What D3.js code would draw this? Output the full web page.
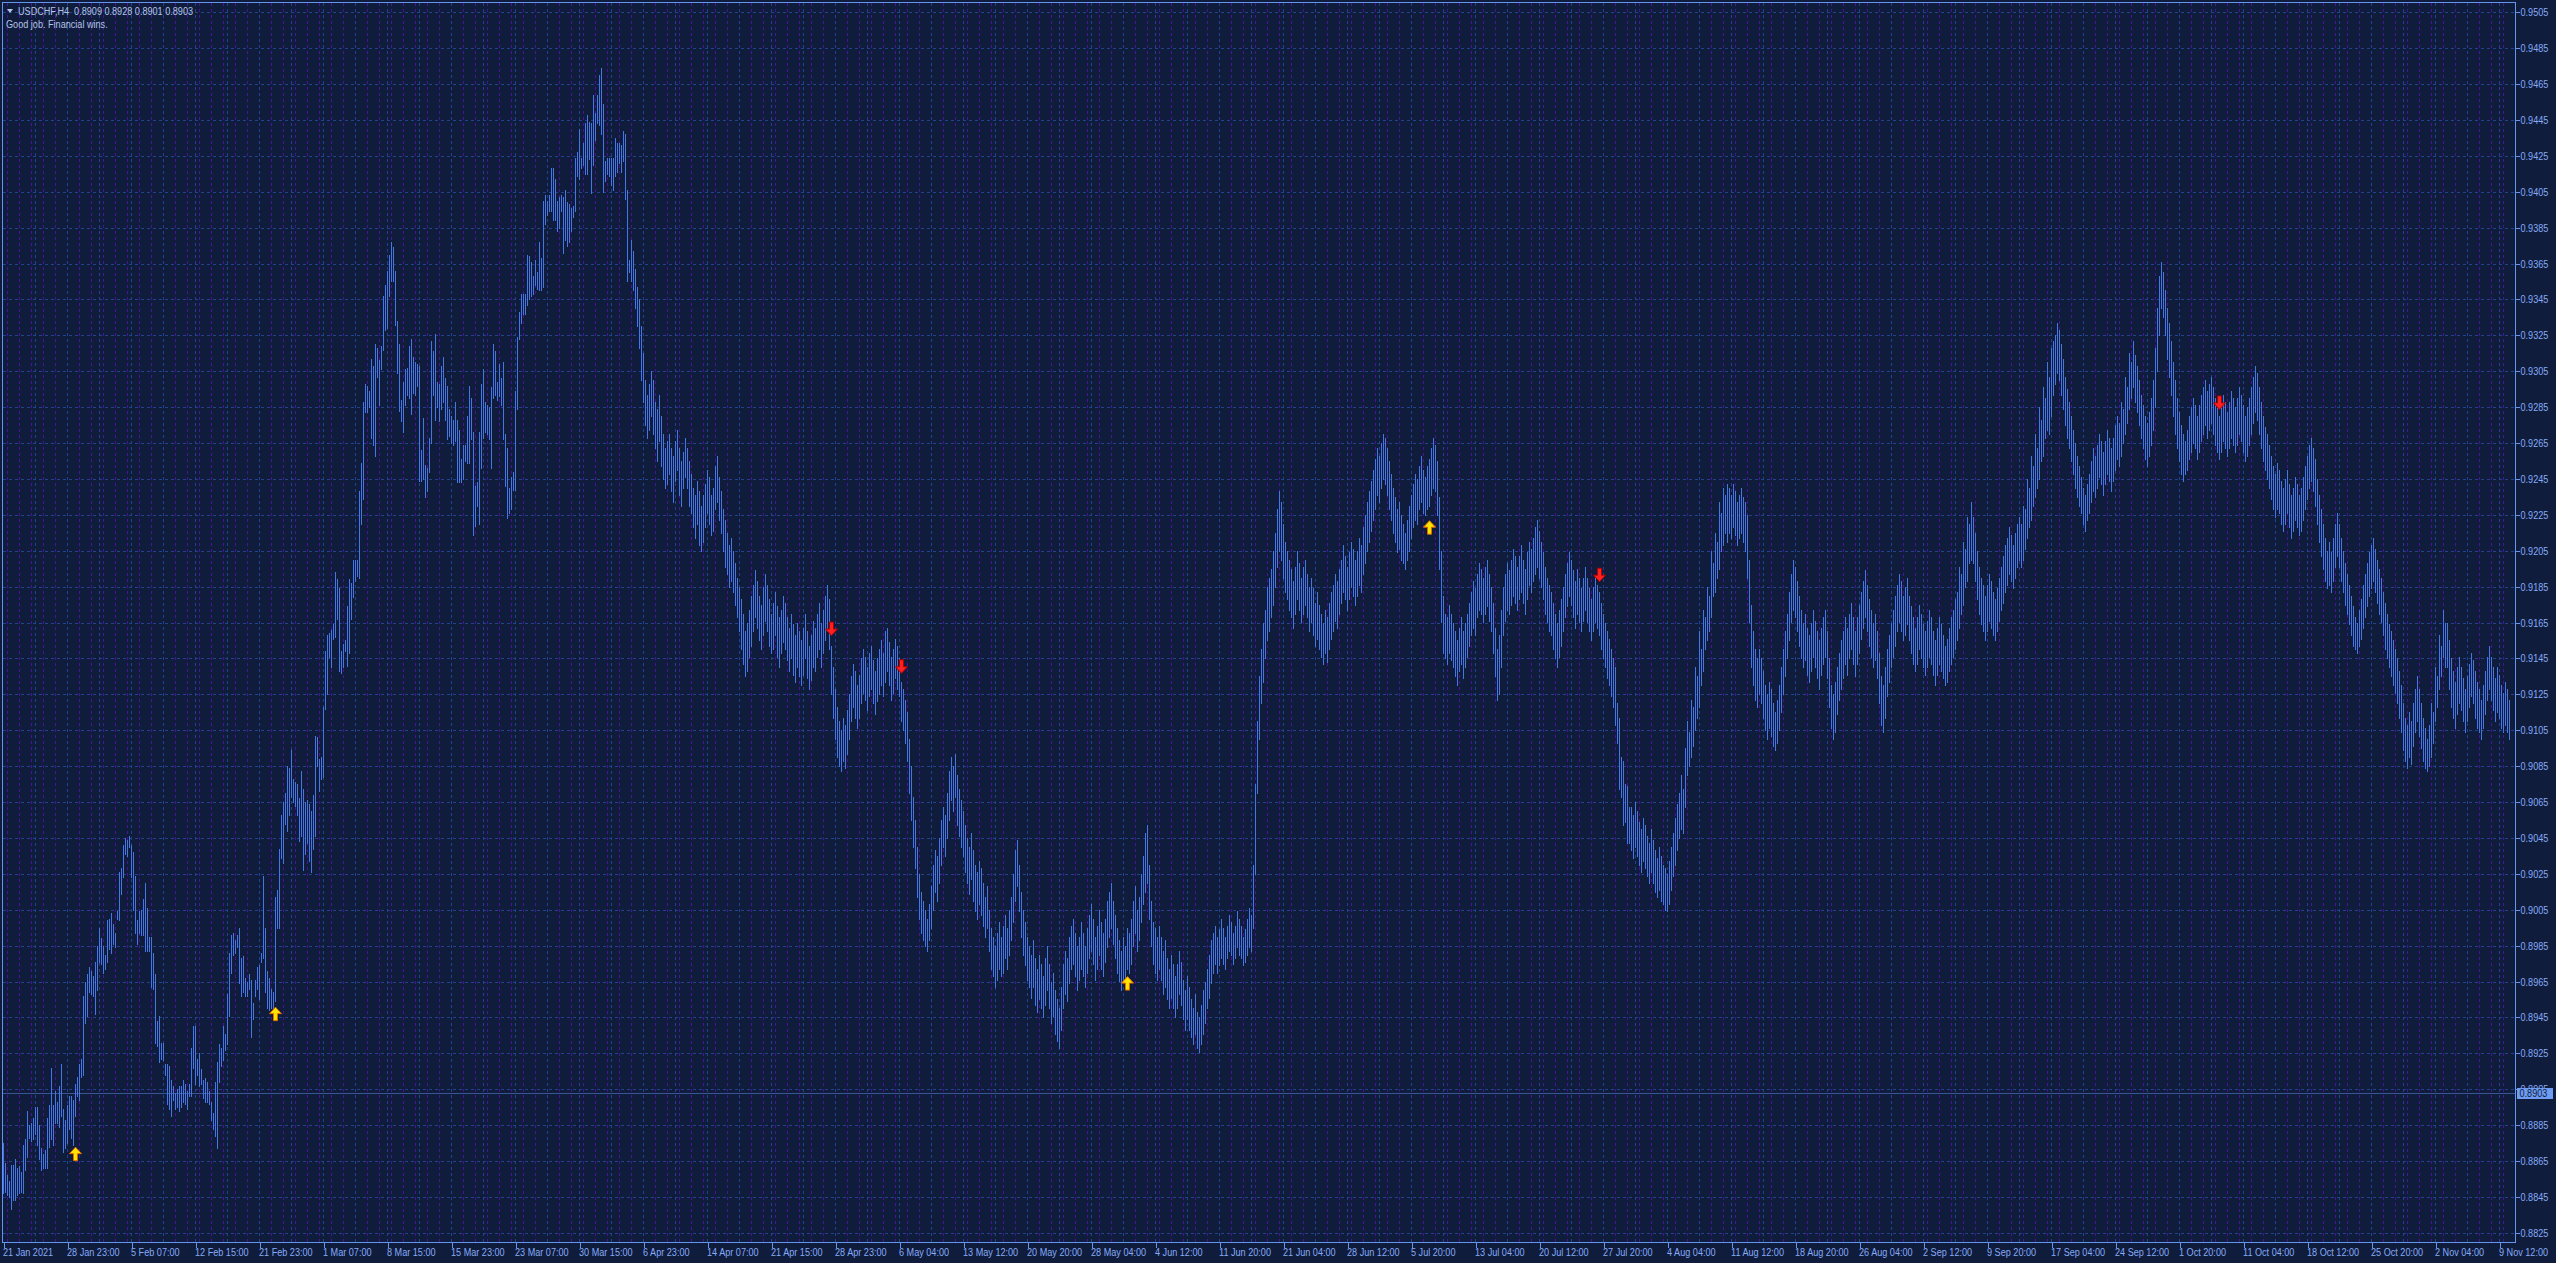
<!DOCTYPE html>
<html><head><meta charset="utf-8">
<script src="https://cdn.jsdelivr.net/npm/d3@7"></script>
<style>html,body{margin:0;padding:0;background:#101c3c;overflow:hidden}</style>
</head><body><svg id="c" width="2556" height="1263"></svg>
<script>
// ---------------- DATA ----------------
const titleText = "USDCHF,H4  0.8909 0.8928 0.8901 0.8903";
const commentText = "Good job. Financial wins.";
const timeLabels = ["21 Jan 2021","28 Jan 23:00","5 Feb 07:00","12 Feb 15:00","21 Feb 23:00","1 Mar 07:00","8 Mar 15:00","15 Mar 23:00","23 Mar 07:00","30 Mar 15:00","6 Apr 23:00","14 Apr 07:00","21 Apr 15:00","28 Apr 23:00","6 May 04:00","13 May 12:00","20 May 20:00","28 May 04:00","4 Jun 12:00","11 Jun 20:00","21 Jun 04:00","28 Jun 12:00","5 Jul 20:00","13 Jul 04:00","20 Jul 12:00","27 Jul 20:00","4 Aug 04:00","11 Aug 12:00","18 Aug 20:00","26 Aug 04:00","2 Sep 12:00","9 Sep 20:00","17 Sep 04:00","24 Sep 12:00","1 Oct 20:00","11 Oct 04:00","18 Oct 12:00","25 Oct 20:00","2 Nov 04:00","9 Nov 12:00"];
const priceTicks = [0.8825,0.8845,0.8865,0.8885,0.8905,0.8925,0.8945,0.8965,0.8985,0.9005,0.9025,0.9045,0.9065,0.9085,0.9105,0.9125,0.9145,0.9165,0.9185,0.9205,0.9225,0.9245,0.9265,0.9285,0.9305,0.9325,0.9345,0.9365,0.9385,0.9405,0.9425,0.9445,0.9465,0.9485,0.9505];
const lastPrice = 0.8903;
// H4 bar highs / lows, in pips (price x 10000), bar 0 = 21 Jan 2021
const highPips = [
8875,8864,8857,8854,8863,8863,8866,8861,8862,8859,8874,8877,8893,8885,8886,8889,8895,8895,8885,8872,
8869,8871,8889,8896,8917,8896,8904,8898,8907,8919,8894,8888,8896,8901,8901,8899,8908,8912,8919,8922,
8957,8965,8969,8973,8971,8968,8976,8985,8995,8989,8985,8980,8999,9000,9003,8997,8992,9004,9026,9028,
9041,9045,9044,9046,9041,9037,9024,8999,9004,9005,9011,9020,9006,8990,8990,8981,8969,8943,8946,8931,
8931,8919,8919,8918,8910,8907,8903,8905,8907,8907,8910,8908,8904,8908,8928,8940,8940,8922,8925,8916,
8910,8911,8909,8904,8898,8892,8909,8920,8930,8928,8940,8936,8958,8981,8991,8992,8988,8991,8995,8978,
8979,8967,8965,8969,8966,8953,8966,8973,8974,8981,9024,8995,8971,8967,8961,8959,9012,9016,9039,9058,
9065,9070,9085,9084,9094,9078,9076,9075,9067,9082,9072,9065,9066,9064,9060,9069,9102,9101,9089,9090,
9118,9149,9158,9159,9161,9164,9193,9189,9184,9149,9153,9155,9174,9189,9187,9200,9200,9200,9238,9254,
9288,9298,9297,9294,9312,9308,9320,9318,9311,9319,9347,9353,9361,9370,9377,9374,9361,9333,9320,9289,
9299,9306,9307,9319,9323,9313,9310,9309,9308,9261,9279,9253,9251,9268,9322,9316,9326,9299,9298,9308,
9313,9301,9297,9284,9280,9278,9288,9278,9272,9256,9264,9264,9280,9297,9290,9271,9241,9243,9271,9298,
9306,9288,9286,9285,9296,9320,9316,9299,9309,9301,9310,9270,9262,9240,9246,9249,9294,9324,9338,9348,
9348,9348,9370,9369,9366,9358,9367,9360,9377,9368,9400,9403,9400,9403,9418,9418,9412,9400,9402,9403,
9402,9406,9399,9398,9396,9397,9424,9427,9440,9424,9432,9443,9448,9444,9443,9459,9449,9459,9470,9474,
9454,9422,9424,9424,9424,9424,9435,9432,9432,9431,9439,9437,9406,9367,
9378,9372,9362,9352,9345,9330,9315,9300,9292,9298,
9305,9300,9288,9284,9292,9280,9270,9262,9266,
9270,9262,9258,9266,9272,9262,9255,9260,9268,
9262,9255,9248,9240,9236,9244,9238,9230,
9236,9242,9250,9246,9236,9240,9252,9258,
9246,9238,9228,9222,9215,9208,9212,9205,
9198,9190,9185,9178,9170,9160,9165,9172,
9180,9186,9194,9188,9180,9175,9185,9192,
9186,9178,9170,9176,9182,9174,9168,9172,9180,
9176,9168,9162,9170,9164,9158,9165,9160,
9155,9162,9170,9160,9152,9158,9166,9162,
9170,9176,9165,9172,9180,9186,9178,9152,
9140,9128,9118,9110,9105,9112,9108,9116,
9125,9135,9142,9138,9130,9136,9145,9150,
9146,9140,9148,9152,9144,9138,9145,9150,
9155,9148,9160,9162,9154,9146,9150,9156,9152,
9145,9132,9128,9122,9115,9100,9085,9068,
9055,9040,9025,9015,9010,9005,9000,9008,
9018,9030,9038,9035,9045,9055,9062,9058,
9070,9082,9090,9085,9092,9080,9072,9066,
9060,9052,9045,9040,9048,9038,9030,9026,
9032,9028,9020,9012,9018,9005,8995,8990,
8985,8992,8998,8990,8996,9002,8995,9005,9012,
9025,9038,9044,9030,9015,9005,8998,8990,
8985,8980,8988,8978,8972,8980,8975,8968,
8978,8985,8975,8965,8970,8960,8955,8950,
8962,8975,8982,8978,8990,8996,9000,8992,
8985,8990,8998,8992,8985,8995,9002,9008,
9000,8990,8996,9005,8998,8992,9000,9010,
9015,9020,9010,9002,8995,8988,8982,8990,8985,
8995,8992,9000,9010,9018,9005,9012,9025,
9035,9048,9052,9030,9010,8998,8995,8990,
8996,8990,8982,8988,8978,8972,8980,8975,
8968,8975,8982,8976,8966,8960,8968,8962,
8955,8950,8958,8948,8945,8952,8960,8965,
8972,8980,8988,8992,8996,8990,8994,9000,8995,
8990,8996,9002,8998,8992,8996,9004,9000,
8996,8990,8994,9000,9006,9002,9030,9075,
9110,9135,9150,9165,9172,9185,9190,9195,
9205,9215,9228,9238,9232,9220,9210,9205,
9200,9195,9188,9196,9205,9198,9190,9196,
9200,9192,9185,9190,9184,9176,9182,9175,
9170,9165,9172,9168,9176,9182,9186,9192,9188,
9195,9200,9208,9202,9196,9204,9210,9206,
9200,9205,9212,9208,9218,9225,9232,9238,
9244,9250,9256,9262,9258,9265,9270,9268,
9262,9255,9248,9240,9235,9228,9232,9225,
9220,9215,9222,9230,9236,9242,9248,9245,
9252,9258,9250,9246,9252,9256,9262,9268,9264,
9255,9235,9205,9180,9170,9168,9175,9170,
9165,9160,9155,9162,9168,9160,9165,9170,
9176,9182,9188,9184,9192,9198,9195,9190,
9196,9200,9192,9185,9176,9162,9150,9158,
9172,9185,9192,9198,9194,9200,9206,9202,
9196,9202,9208,9200,9195,9204,9210,9206,
9212,9218,9222,9216,9210,9204,9196,9190,9186,
9182,9176,9170,9165,9172,9178,9185,9192,
9198,9204,9200,9194,9188,9195,9190,9184,
9190,9196,9190,9184,9178,9185,9190,9186,
9182,9176,9170,9165,9160,9156,9150,9145,
9140,9120,9112,9090,9088,9075,9074,9062,
9062,9058,9065,9060,9054,9050,9056,9052,
9046,9042,9050,9044,9038,9034,9040,9035,9030,
9028,9025,9032,9040,9048,9056,9064,9070,
9080,9072,9095,9110,9104,9122,9118,9140,
9135,9160,9150,9172,9168,9185,9180,9205,
9198,9215,9210,9232,9226,9240,9236,9242,
9240,9236,9242,9238,9232,9236,9240,9235,
9232,9225,9200,9175,9160,9150,9145,9150,
9145,9138,9130,9125,9132,9128,9120,9115,9122,
9130,9140,9150,9160,9170,9182,9192,9200,
9196,9188,9180,9172,9165,9170,9162,9158,
9165,9172,9166,9160,9155,9162,9168,9172,
9160,9145,9130,9125,9132,9140,9148,9155,
9160,9168,9162,9170,9176,9168,9160,9168,
9175,9182,9188,9194,9186,9178,9172,9165,9170,
9160,9148,9135,9130,9140,9150,9158,9165,
9172,9180,9186,9192,9188,9180,9185,9190,
9180,9174,9168,9162,9168,9175,9170,9164,
9160,9166,9172,9168,9160,9155,9162,9168,
9164,9158,9152,9156,9162,9168,9172,9178,
9182,9196,9192,9210,9206,9224,9220,9232,
9224,9215,9205,9196,9190,9186,9180,9186,9192,
9188,9182,9178,9184,9190,9196,9202,9208,
9212,9218,9214,9208,9215,9220,9224,9220,
9230,9228,9245,9240,9258,9252,9270,9262,
9285,9278,9296,9290,9310,9302,9318,9322,
9325,9332,9328,9320,9312,9302,9295,9288,
9280,9272,9265,9258,9252,9246,9240,9236,9242,
9248,9255,9262,9258,9264,9270,9266,9260,
9266,9272,9268,9262,9268,9275,9280,9276,
9288,9284,9302,9296,9315,9310,9322,9314,
9308,9300,9292,9286,9280,9276,9282,9290,
9300,9318,9340,9358,9366,9360,9350,9340,
9332,9322,9310,9300,9290,9282,9275,9270,
9266,9272,9280,9285,9290,9286,9280,9286,9292,
9296,9300,9294,9298,9302,9296,9290,9285,
9280,9286,9292,9288,9282,9288,9294,9290,
9285,9290,9296,9292,9286,9280,9285,9290,
9296,9302,9308,9304,9296,9288,9280,9274,
9270,9264,9258,9252,9248,9254,9250,9244,
9240,9245,9250,9242,9236,9240,9246,9242,9236,
9240,9246,9252,9258,9264,9268,9262,9256,
9245,9236,9228,9220,9212,9205,9210,9204,
9212,9220,9226,9220,9212,9205,9198,9192,
9186,9180,9174,9168,9165,9172,9178,9186,
9192,9198,9204,9208,9212,9206,9200,9195,
9190,9182,9176,9170,9164,9160,9155,9150,
9145,9138,9130,9120,9112,9108,9115,9110,
9120,9128,9135,9128,9120,9112,9106,9100,9108,
9120,9115,9140,9135,9158,9152,9172,9165,
9165,9155,9145,9138,9132,9140,9146,9140,
9134,9128,9135,9142,9148,9144,9138,9132,
9128,9122,9130,9138,9146,9152,9146,9140,
9134,9140,9136,9130,9126,9132,9128,9122
];
const lowPips = [
8847,8848,8846,8845,8838,8843,8843,8846,8847,8848,8847,8860,8867,8878,8876,8877,8880,8874,8866,8860,
8861,8861,8861,8873,8877,8874,8886,8886,8884,8890,8870,8872,8875,8883,8878,8874,8890,8901,8899,8912,
8913,8942,8946,8959,8958,8957,8947,8960,8976,8975,8970,8972,8976,8983,8981,8986,8984,9000,8999,9014,
9023,9036,9035,9040,9023,9005,8992,8986,8992,8991,8991,8982,8982,8982,8962,8961,8931,8929,8920,8922,
8921,8913,8897,8894,8890,8899,8894,8895,8893,8895,8898,8897,8894,8901,8901,8917,8908,8913,8907,8908,
8900,8898,8898,8897,8888,8883,8879,8872,8909,8918,8921,8927,8930,8946,8970,8980,8981,8984,8964,8957,
8959,8957,8957,8961,8934,8944,8957,8961,8955,8976,8978,8959,8950,8949,8950,8950,8954,8995,8995,9034,
9031,9053,9049,9058,9068,9065,9063,9058,9043,9046,9027,9036,9042,9032,9026,9039,9046,9085,9071,9078,
9079,9117,9125,9146,9140,9156,9157,9167,9138,9137,9140,9149,9141,9148,9167,9179,9188,9191,9190,9220,
9234,9282,9282,9285,9268,9264,9258,9302,9286,9306,9317,9328,9329,9347,9355,9355,9331,9304,9283,9277,
9271,9286,9292,9290,9281,9293,9292,9297,9244,9244,9245,9235,9238,9249,9265,9292,9278,9285,9277,9284,
9288,9278,9267,9269,9265,9264,9266,9243,9243,9243,9245,9255,9254,9254,9267,9214,9219,9230,9220,9251,
9268,9271,9270,9267,9251,9290,9292,9289,9291,9286,9267,9241,9223,9226,9228,9239,9239,9284,9323,9332,
9337,9337,9342,9345,9347,9348,9353,9351,9350,9350,9352,9387,9392,9394,9394,9389,9389,9383,9385,9394,
9371,9378,9375,9377,9383,9391,9394,9414,9412,9418,9420,9415,9415,9423,9404,9420,9434,9443,9442,9437,
9405,9411,9415,9414,9409,9406,9414,9416,9421,9416,9422,9401,9355,9360,
9355,9350,9340,9330,9318,9300,9288,9275,9268,9272,
9280,9270,9262,9255,9266,9252,9245,9240,9242,
9248,9238,9232,9244,9250,9236,9230,9240,9246,
9240,9230,9226,9218,9212,9220,9208,9205,
9210,9218,9226,9220,9214,9216,9228,9232,
9222,9215,9205,9196,9192,9185,9188,9182,
9175,9168,9160,9150,9142,9135,9138,9146,
9152,9160,9168,9162,9155,9150,9158,9166,
9160,9152,9148,9150,9158,9146,9140,9148,9154,
9150,9144,9138,9145,9136,9132,9140,9135,
9130,9136,9145,9134,9128,9133,9140,9138,
9146,9150,9140,9148,9155,9160,9150,9125,
9112,9100,9090,9085,9082,9088,9084,9092,
9100,9110,9118,9112,9106,9112,9120,9126,
9122,9116,9124,9128,9120,9114,9121,9125,
9130,9124,9132,9138,9130,9122,9126,9134,9128,
9124,9110,9105,9098,9088,9070,9055,9040,
9028,9012,9000,8992,8988,8985,8982,8988,
8995,9005,9015,9010,9020,9030,9040,9035,
9045,9055,9066,9060,9068,9052,9046,9040,
9035,9026,9020,9014,9022,9010,9004,9000,
9008,9002,8996,8990,8995,8982,8972,8968,
8962,8966,8972,8968,8970,8978,8972,8980,8988,
8998,9010,9018,9004,8990,8980,8974,8966,
8962,8956,8962,8952,8948,8955,8950,8945,
8952,8960,8950,8942,8946,8936,8932,8928,
8938,8950,8958,8954,8964,8972,8975,8968,
8960,8966,8972,8968,8962,8970,8978,8982,
8975,8966,8972,8980,8972,8968,8976,8984,
8990,8995,8986,8978,8970,8965,8960,8966,8962,
8972,8970,8975,8985,8992,8982,8988,8998,
9008,9015,9020,9000,8985,8975,8970,8966,
8972,8966,8958,8962,8955,8950,8956,8950,
8945,8950,8958,8952,8944,8938,8944,8938,
8934,8930,8936,8928,8926,8930,8936,8942,
8950,8956,8964,8970,8975,8970,8974,8978,8975,
8972,8978,8982,8980,8975,8978,8984,8980,
8978,8974,8976,8980,8984,8982,8995,9025,
9070,9100,9120,9132,9145,9155,9160,9168,
9175,9185,9196,9205,9200,9190,9182,9178,
9172,9168,9162,9170,9178,9172,9165,9170,
9175,9168,9160,9165,9158,9152,9156,9150,
9146,9142,9148,9143,9150,9156,9160,9166,9162,
9170,9176,9182,9178,9172,9178,9185,9180,
9175,9180,9186,9182,9192,9198,9205,9210,
9216,9222,9228,9236,9232,9240,9245,9242,
9236,9228,9222,9215,9210,9204,9206,9200,
9198,9195,9200,9205,9212,9218,9222,9220,
9228,9232,9226,9225,9228,9230,9236,9240,9238,
9225,9195,9165,9148,9145,9142,9148,9144,
9140,9135,9130,9138,9142,9134,9140,9146,
9152,9158,9162,9158,9168,9172,9170,9165,
9170,9174,9166,9160,9148,9135,9122,9125,
9140,9158,9166,9172,9170,9175,9180,9176,
9172,9178,9182,9176,9170,9178,9186,9182,
9188,9192,9196,9190,9185,9178,9170,9165,9160,
9158,9150,9145,9140,9146,9152,9160,9168,
9174,9180,9175,9168,9162,9170,9165,9160,
9166,9172,9165,9160,9155,9160,9165,9162,
9158,9150,9145,9140,9134,9130,9124,9118,
9108,9098,9072,9068,9052,9054,9042,9042,
9038,9034,9040,9035,9030,9026,9032,9028,
9024,9020,9026,9020,9015,9012,9016,9010,9008,
9005,9004,9008,9016,9024,9030,9038,9045,
9050,9048,9062,9080,9085,9090,9096,9105,
9112,9118,9130,9138,9150,9155,9160,9168,
9180,9182,9190,9195,9205,9208,9215,9210,
9215,9212,9218,9214,9208,9212,9215,9210,
9205,9190,9165,9140,9130,9122,9118,9125,
9120,9112,9105,9100,9106,9102,9096,9094,9098,
9105,9115,9125,9135,9145,9155,9165,9172,
9168,9160,9152,9145,9140,9144,9136,9132,
9138,9146,9140,9134,9128,9136,9142,9146,
9134,9118,9106,9100,9104,9114,9122,9128,
9134,9142,9136,9145,9150,9142,9135,9142,
9148,9156,9162,9168,9160,9152,9146,9140,9144,
9134,9120,9108,9104,9112,9124,9132,9140,
9146,9152,9160,9165,9160,9155,9158,9164,
9155,9148,9142,9138,9142,9150,9145,9140,
9136,9140,9146,9142,9136,9130,9136,9142,
9138,9134,9130,9132,9138,9142,9146,9150,
9155,9162,9170,9175,9185,9188,9198,9200,
9198,9188,9178,9170,9164,9160,9155,9160,9166,
9162,9158,9155,9160,9166,9172,9176,9182,
9186,9192,9188,9184,9190,9196,9200,9196,
9200,9206,9212,9218,9222,9230,9235,9240,
9245,9255,9258,9268,9272,9270,9280,9292,
9298,9304,9300,9292,9284,9275,9268,9262,
9255,9248,9240,9235,9230,9226,9220,9216,9222,
9226,9232,9238,9235,9240,9246,9242,9236,
9242,9248,9244,9238,9244,9250,9256,9252,
9258,9265,9270,9276,9284,9290,9296,9288,
9282,9275,9268,9262,9256,9252,9258,9264,
9272,9285,9305,9325,9340,9335,9325,9312,
9302,9292,9280,9270,9262,9255,9248,9244,
9248,9250,9256,9260,9265,9262,9256,9260,9266,
9270,9275,9268,9272,9276,9270,9264,9260,
9256,9260,9266,9262,9258,9262,9268,9264,
9260,9264,9270,9266,9260,9255,9258,9264,
9270,9276,9282,9278,9270,9262,9255,9250,
9245,9240,9234,9228,9224,9228,9226,9220,
9216,9220,9226,9218,9212,9216,9222,9218,9214,
9216,9222,9228,9234,9240,9244,9238,9230,
9220,9210,9202,9195,9188,9184,9186,9182,
9188,9196,9202,9196,9188,9182,9175,9170,
9164,9158,9152,9150,9148,9152,9156,9162,
9168,9174,9180,9184,9188,9182,9176,9170,
9165,9158,9150,9145,9140,9135,9130,9126,
9120,9112,9104,9094,9088,9084,9090,9086,
9096,9104,9110,9102,9095,9088,9084,9082,9085,
9090,9098,9110,9118,9128,9135,9146,9140,
9140,9128,9118,9112,9106,9114,9120,9116,
9110,9104,9110,9118,9124,9120,9112,9106,
9104,9100,9106,9114,9122,9128,9122,9116,
9110,9115,9112,9106,9104,9108,9104,9100
];
// signal arrows: bar index and price of the arrow tip
const upArrows = [{bar:36, price:0.8873},{bar:136, price:0.8951},{bar:562, price:0.8968},{bar:713, price:0.9222}];
const downArrows = [{bar:414, price:0.9158},{bar:449, price:0.9137},{bar:798, price:0.9188},{bar:1108, price:0.9284}];

// ---------------- CHART ----------------
const W = 2556, H = 1263;
const svg = d3.select("#c");
svg.append("rect").attr("width", W).attr("height", H).attr("fill", "#101c3c");

const x = d3.scaleLinear().domain([0, 1256]).range([3.5, 3.5 + 2 * 1256]);
const y = d3.scaleLinear().domain([0.8825, 0.9505]).range([1233.3, 12.7]);
const snap = v => Math.floor(v) + 0.5;
const plotL = 2.5, plotT = 2.5, plotR = 2515.5, plotB = 1242.5;
const lastBarIdx = Math.floor(x.invert(plotR));

svg.append("defs").append("clipPath").attr("id", "clip")
  .append("rect").attr("x", plotL + 0.5).attr("y", plotT + 0.5)
  .attr("width", plotR - plotL - 1).attr("height", plotB - plotT - 1);

const grid = svg.append("g").attr("clip-path", "url(#clip)").attr("shape-rendering", "crispEdges");
// purple day separators (every 6 bars)
grid.append("g").selectAll("line").data(d3.range(2, lastBarIdx + 1, 6)).join("line")
  .attr("x1", d => snap(x(d))).attr("x2", d => snap(x(d)))
  .attr("y1", plotT).attr("y2", plotB)
  .attr("stroke", "#4c1299").attr("stroke-dasharray", "3,3");
// blue vertical grid (every 16 bars)
grid.append("g").selectAll("line").data(d3.range(16, lastBarIdx + 1, 16)).join("line")
  .attr("x1", d => snap(x(d))).attr("x2", d => snap(x(d)))
  .attr("y1", plotT).attr("y2", plotB)
  .attr("stroke", "#24428c").attr("stroke-dasharray", "3,3");
// horizontal grid
grid.append("g").selectAll("line").data(priceTicks).join("line")
  .attr("x1", plotL).attr("x2", plotR)
  .attr("y1", d => snap(y(d))).attr("y2", d => snap(y(d)))
  .attr("stroke", "#24428c").attr("stroke-dasharray", "3,3");
// last price line
grid.append("line").attr("x1", plotL).attr("x2", plotR)
  .attr("y1", snap(y(lastPrice))).attr("y2", snap(y(lastPrice)))
  .attr("stroke", "#3a5596");

// bars (high-low lines)
const nBars = Math.min(highPips.length, lowPips.length);
const bars = d3.range(nBars).map(i => ({ i, hi: Math.max(highPips[i], lowPips[i]) / 1e4, lo: Math.min(highPips[i], lowPips[i]) / 1e4 }));
svg.append("g").attr("clip-path", "url(#clip)").attr("shape-rendering", "crispEdges")
  .selectAll("line").data(bars).join("line")
  .attr("x1", d => x(d.i)).attr("x2", d => x(d.i))
  .attr("y1", d => Math.floor(y(d.hi))).attr("y2", d => Math.max(Math.ceil(y(d.lo)), Math.floor(y(d.hi)) + 1))
  .attr("stroke", "#4676e6").attr("stroke-width", 1);

// arrows
const upPath = "M0,0 L6,6.5 L2,6.5 L2,13.5 L-2,13.5 L-2,6.5 L-6,6.5 Z";
const downPath = "M0,0 L6,-6.5 L2,-6.5 L2,-13.5 L-2,-13.5 L-2,-6.5 L-6,-6.5 Z";
svg.append("g").selectAll("path").data(upArrows).join("path")
  .attr("d", upPath).attr("transform", d => `translate(${x(d.bar)},${y(d.price)})`)
  .attr("fill", "#ffe400").attr("stroke", "#e06a00").attr("stroke-width", 1);
svg.append("g").selectAll("path").data(downArrows).join("path")
  .attr("d", downPath).attr("transform", d => `translate(${x(d.bar)},${y(d.price)})`)
  .attr("fill", "#ff2020").attr("stroke", "#b00000").attr("stroke-width", 1);

// frame
svg.append("path").attr("shape-rendering", "crispEdges").attr("stroke", "#6495ed").attr("fill", "none")
  .attr("d", `M${plotR},${plotB}H${plotL}V${plotT}H${plotR}V${plotB}`);

const FONT = "'Liberation Sans',Arial,sans-serif";
const FS = 10, SQ = 0.91;
const axisColor = "#86abf7";
function squeeze(sel) {
  sel.each(function () {
    const w = this.getComputedTextLength();
    if (w > 0) d3.select(this).attr("textLength", (w * SQ).toFixed(1)).attr("lengthAdjust", "spacingAndGlyphs");
  });
}
// price axis
const yAxis = d3.axisRight(y).tickValues(priceTicks).tickFormat(d3.format(".4f")).tickSize(4).tickPadding(1);
const ya = svg.append("g").attr("transform", `translate(${plotR},0)`).call(yAxis);
ya.select(".domain").remove();
ya.selectAll(".tick").attr("transform", d => `translate(0,${snap(y(d))})`);
ya.selectAll(".tick line").attr("stroke", "#6495ed").attr("shape-rendering", "crispEdges");
ya.selectAll("text").attr("fill", axisColor).attr("font-family", FONT).attr("font-size", FS).call(squeeze);

// time axis
const tickBars = timeLabels.map((_, k) => k * 32);
const xAxis = d3.axisBottom(x).tickValues(tickBars).tickFormat((d, k) => timeLabels[k]).tickSize(5).tickPadding(1);
const xa = svg.append("g").attr("transform", `translate(0,${plotB})`).call(xAxis);
xa.select(".domain").remove();
xa.selectAll(".tick line").attr("stroke", "#6495ed").attr("shape-rendering", "crispEdges");
xa.selectAll("text").attr("fill", axisColor).attr("font-family", FONT).attr("font-size", FS)
  .attr("text-anchor", "start").attr("x", -1).call(squeeze);

// last price label box
const lp = svg.append("g").attr("transform", `translate(${plotR + 1.5},${snap(y(lastPrice))})`);
lp.append("rect").attr("x", 0).attr("y", -5.5).attr("width", 36).attr("height", 11).attr("fill", "#6d9cf2");
lp.append("text").attr("x", 2.5).attr("y", 0).attr("dy", "0.35em")
  .attr("font-family", FONT).attr("font-size", FS).attr("fill", "#0f1b3c").text(d3.format(".4f")(lastPrice)).call(squeeze);

// title
const tg = svg.append("g").attr("font-family", FONT).attr("font-size", FS).attr("fill", "#b4c4e6");
tg.append("path").attr("d", "M7,9 L13,9 L10,13 Z");
tg.append("text").attr("x", 18).attr("y", 15).style("white-space", "pre").text(titleText).call(squeeze);
tg.append("text").attr("x", 6).attr("y", 28).text(commentText).call(squeeze);
</script></body></html>
